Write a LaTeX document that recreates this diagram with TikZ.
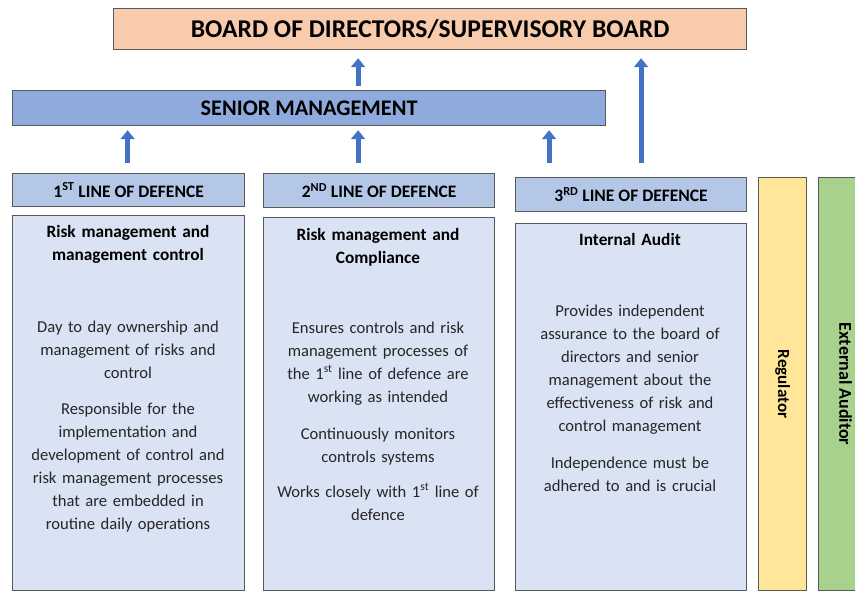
\documentclass[tikz,border=0pt]{standalone}
\usepackage{fontspec}
\setmainfont{Carlito}
\usetikzlibrary{arrows.meta,positioning}

\definecolor{boardfill}{HTML}{F8CBAD}
\definecolor{mgmtfill}{HTML}{8FAADC}
\definecolor{linefill}{HTML}{B4C7E7}
\definecolor{bodyfill}{HTML}{DAE3F3}
\definecolor{regfill}{HTML}{FFE699}
\definecolor{extfill}{HTML}{A9D18E}
\definecolor{arrowblue}{HTML}{4472C4}
\definecolor{edgegray}{HTML}{595959}

\begin{document}
\begin{tikzpicture}[x=1pt,y=-1pt,
    box/.style={draw=edgegray,line width=1.2pt,inner sep=0pt,anchor=north west},
    uparrow/.style={draw=arrowblue,line width=5pt,-{Triangle[length=9pt,width=14pt]}},
    headtext/.style={font=\fontsize{17.3}{23}\selectfont\bfseries,align=center,anchor=north},
    bodytext/.style={font=\fontsize{16.6}{23}\selectfont,text=black!85,align=center,anchor=north},
    linetext/.style={font=\fontsize{17.5}{20}\selectfont\bfseries}]
    \useasboundingbox (0,0) rectangle (855,592);

    % top boxes
    \node[box,fill=boardfill,minimum width=633pt,minimum height=41pt,
          font=\fontsize{25.6}{28}\selectfont\bfseries] (board) at (113,8)
          {BOARD OF DIRECTORS/SUPERVISORY BOARD};
    \node[box,fill=mgmtfill,minimum width=593pt,minimum height=35pt,
          font=\fontsize{22.3}{24}\selectfont\bfseries] (sm) at (12,90)
          {SENIOR MANAGEMENT};

    % lines of defence
    \node[box,fill=linefill,minimum width=232pt,minimum height=33pt,linetext] (l1) at (12,173)
          {1\textsuperscript{ST} LINE OF DEFENCE};
    \node[box,fill=linefill,minimum width=231pt,minimum height=34pt,linetext] (l2) at (263,173)
          {2\textsuperscript{ND} LINE OF DEFENCE};
    \node[box,fill=linefill,minimum width=231pt,minimum height=34pt,linetext] (l3) at (515,177)
          {3\textsuperscript{RD} LINE OF DEFENCE};

    \node[box,fill=bodyfill,minimum width=232pt,minimum height=375pt] (b1) at (12,215) {};
    \node[box,fill=bodyfill,minimum width=231pt,minimum height=373pt] (b2) at (263,217) {};
    \node[box,fill=bodyfill,minimum width=231pt,minimum height=367pt] (b3) at (515,223) {};

    % side boxes
    \node[box,fill=regfill,minimum width=48pt,minimum height=413pt] (reg) at (758,177) {};
    \node[box,fill=extfill,minimum width=48pt,minimum height=413pt] (ext) at (818,177) {};
    \node[rotate=-90,font=\fontsize{17}{20}\selectfont\bfseries] (regtxt) at (reg) {Regulator};
    \node[rotate=-90,font=\fontsize{18}{20}\selectfont\bfseries] (exttxt) at ([xshift=3pt]ext) {External Auditor};

    % texts in the boxes
    \node[headtext,text width=228pt] (h1) at (128,222)
        {Risk management and\\management control};
    \node[bodytext,text width=228pt] (t1) at (128,317)
        {Day to day ownership and\\management of risks and\\control\\[13pt]
         Responsible for the\\implementation and\\development of control and\\risk management processes\\that are embedded in\\routine daily operations};

    \node[headtext,text width=228pt] (h2) at (378,225)
        {Risk management and\\Compliance};
    \node[bodytext,text width=228pt] (t2) at (378,318)
        {Ensures controls and risk\\management processes of\\the 1\textsuperscript{st} line of defence are\\working as intended\\[14pt]
         Continuously monitors\\controls systems\\[12pt]
         Works closely with 1\textsuperscript{st} line of\\defence};

    \node[headtext,text width=228pt] (h3) at (630,230)
        {Internal Audit};
    \node[bodytext,text width=228pt] (t3) at (630,301)
        {Provides independent\\assurance to the board of\\directors and senior\\management about the\\effectiveness of risk and\\control management\\[14pt]
         Independence must be\\adhered to and is crucial};

    % arrows
    \draw[uparrow,shorten <=10pt,shorten >=4pt] ([xshift=-1pt]l1.north) -- ([xshift=-1pt]l1.north |- sm.south);
    \draw[uparrow,shorten <=10pt,shorten >=4pt] ([xshift=-21pt]l2.north) -- ([xshift=-21pt]l2.north |- sm.south);
    \draw[uparrow,shorten <=14pt,shorten >=4pt] ([xshift=-82pt]l3.north) -- ([xshift=-82pt]l3.north |- sm.south);
    \draw[uparrow,shorten <=4pt,shorten >=8pt] ([xshift=-21pt]l2.north |- sm.north) -- ([xshift=-21pt]l2.north |- board.south);
    \draw[uparrow,shorten <=14pt,shorten >=8pt] ([xshift=10pt]l3.north) -- ([xshift=10pt]l3.north |- board.south);
\end{tikzpicture}
\end{document}
